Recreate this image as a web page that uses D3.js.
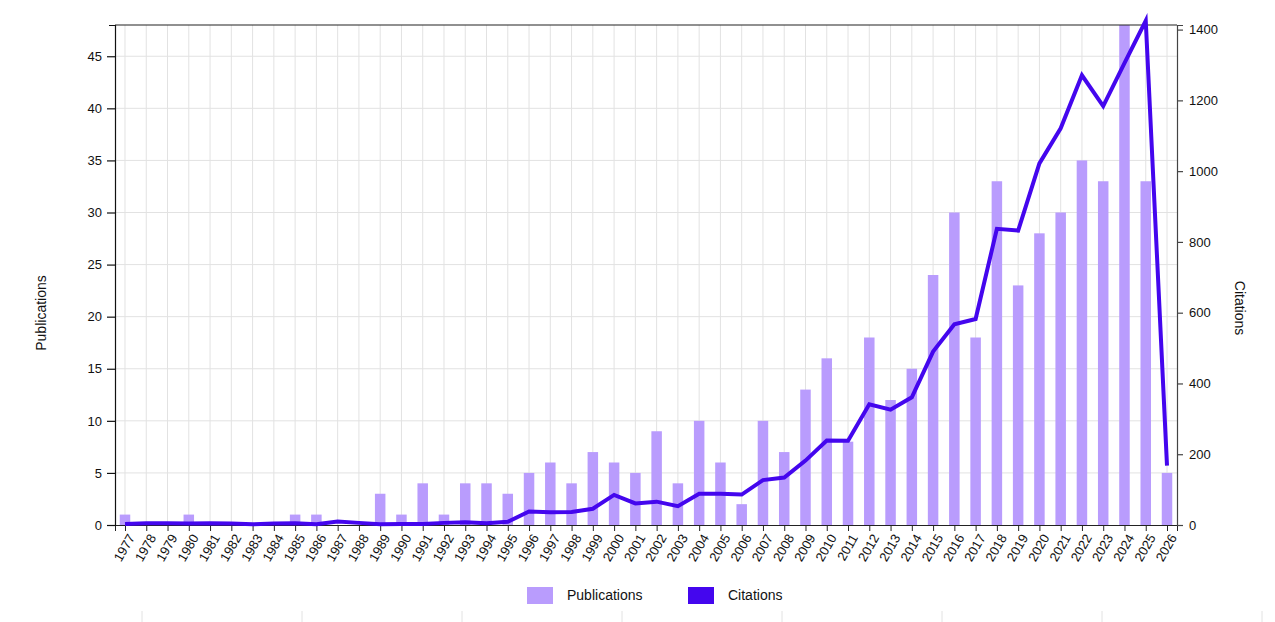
<!DOCTYPE html>
<html>
<head>
<meta charset="utf-8">
<script src="https://cdn.jsdelivr.net/npm/d3@7"></script>
<style>
  html, body { margin: 0; padding: 0; background: #fff; }
  svg { display: block; font-family: "Liberation Sans", Arial, Helvetica, sans-serif; }
</style>
</head>
<body>
<svg id="chart" width="1275" height="622"></svg>
<script>
// ---- data ----
const years = [1977,1978,1979,1980,1981,1982,1983,1984,1985,1986,1987,1988,1989,1990,1991,1992,1993,1994,1995,1996,1997,1998,1999,2000,2001,2002,2003,2004,2005,2006,2007,2008,2009,2010,2011,2012,2013,2014,2015,2016,2017,2018,2019,2020,2021,2022,2023,2024,2025,2026];
const publications = [1,0,0,1,0,0,0,0,1,1,0,0,3,1,4,1,4,4,3,5,6,4,7,6,5,9,4,10,6,2,10,7,13,16,8,18,12,15,24,30,18,33,23,28,30,35,33,48,33,5];
const citations = [3,5,5,4,5,4,2,4,5,2,10,6,2,3,3,6,8,5,9,38,36,37,46,85,61,66,53,88,88,86,127,134,182,239,238,341,326,361,490,567,582,837,832,1022,1121,1271,1184,1305,1425,168];
const leftTicks = [0,5,10,15,20,25,30,35,40,45];
const rightTicks = [0,200,400,600,800,1000,1200,1400];
const leftDomainMax = 48;
const rightDomainMax = 1413;
const legendItems = ["Publications", "Citations"];
const axisTitles = { left: "Publications", right: "Citations" };

// ---- layout ----
const L = 115, R = 1177, T = 25, B = 525;
const barColor = "#b99cfd";
const lineColor = "#4406ee";

const svg = d3.select("#chart");

const x = d3.scalePoint().domain(years).range([L, R]).padding(0.47);
const yL = d3.scaleLinear().domain([0, leftDomainMax]).range([B, T]);
const yR = d3.scaleLinear().domain([0, rightDomainMax]).range([B, T]);

// grid
const grid = svg.append("g").attr("stroke", "#e2e2e2").attr("stroke-width", 1);
grid.selectAll("line.v").data(years).join("line")
  .attr("x1", d => x(d)).attr("x2", d => x(d)).attr("y1", T).attr("y2", B);
grid.selectAll("line.h").data(leftTicks.filter(d => d > 0)).join("line")
  .attr("x1", L).attr("x2", R).attr("y1", d => yL(d)).attr("y2", d => yL(d));

// bars
const bw = 10.5;
svg.append("g").selectAll("rect").data(years).join("rect")
  .attr("x", d => x(d) - bw / 2)
  .attr("width", bw)
  .attr("y", (d, i) => yL(publications[i]))
  .attr("height", (d, i) => B - yL(publications[i]))
  .attr("fill", barColor);

// top border
svg.append("line").attr("x1", L).attr("x2", R).attr("y1", T).attr("y2", T)
  .attr("stroke", "#222").attr("stroke-width", 1.2);

// axes
const gx = svg.append("g").attr("transform", `translate(0,${B})`)
  .call(d3.axisBottom(x).tickSize(6).tickSizeOuter(6));
gx.selectAll("text")
  .attr("font-size", 13).attr("fill", "#111")
  .attr("text-anchor", "end")
  .attr("transform", "rotate(-60)")
  .attr("dx", "-0.45em").attr("dy", "0.45em");
gx.selectAll("line,path").attr("stroke", "#222");

const gl = svg.append("g").attr("transform", `translate(${L},0)`)
  .call(d3.axisLeft(yL).tickValues(leftTicks).tickSize(8).tickSizeOuter(6).tickPadding(5).tickFormat(d3.format("d")));
gl.selectAll("text").attr("font-size", 13).attr("fill", "#111");
gl.selectAll("line,path").attr("stroke", "#111").attr("stroke-width", 1.2);

const gr = svg.append("g").attr("transform", `translate(${R},0)`)
  .call(d3.axisRight(yR).tickValues(rightTicks).tickSize(6).tickSizeOuter(6).tickPadding(6).tickFormat(d3.format("d")));
gr.selectAll("text").attr("font-size", 13).attr("fill", "#111");
gr.selectAll("line,path").attr("stroke", "#444").attr("stroke-width", 1.2);

// line
const line = d3.line().x((d, i) => x(years[i])).y(d => yR(d));
svg.append("path").datum(citations)
  .attr("d", line).attr("fill", "none")
  .attr("stroke", lineColor).attr("stroke-width", 4)
  .attr("stroke-linejoin", "miter");

// axis titles
svg.append("text").attr("transform", "translate(46,313) rotate(-90)")
  .attr("text-anchor", "middle").attr("font-size", 14).attr("fill", "#111").text(axisTitles.left);
svg.append("text").attr("transform", "translate(1235,308) rotate(90)")
  .attr("text-anchor", "middle").attr("font-size", 14).attr("fill", "#111").text(axisTitles.right);

// legend
const legend = svg.append("g");
const legX = [527, 688];
const legColors = [barColor, lineColor];
legendItems.forEach((name, i) => {
  legend.append("rect").attr("x", legX[i]).attr("y", 587).attr("width", 26).attr("height", 17).attr("fill", legColors[i]);
  legend.append("text").attr("x", legX[i] + 40).attr("y", 595.5).attr("dy", "0.35em")
    .attr("font-size", 14).attr("fill", "#111").text(name);
});

// faint separators at the bottom
const seps = d3.range(8).map(i => 142 + i * 160);
svg.append("g").selectAll("line").data(seps).join("line")
  .attr("x1", d => d).attr("x2", d => d).attr("y1", 611).attr("y2", 622)
  .attr("stroke", "#e2e2e2").attr("stroke-width", 1);
</script>
</body>
</html>
